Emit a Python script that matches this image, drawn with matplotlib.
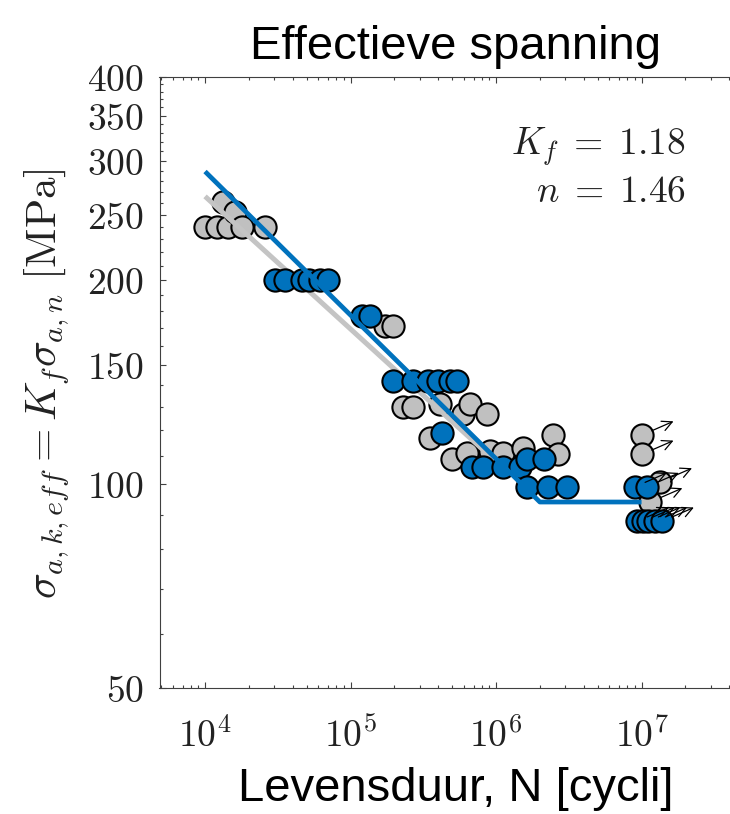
import matplotlib
matplotlib.use("Agg")
import matplotlib.pyplot as plt
from matplotlib.ticker import FixedLocator, FixedFormatter, LogLocator, NullFormatter
from matplotlib.transforms import offset_copy

plt.rcParams['mathtext.fontset'] = 'cm'

# ---------------- data ----------------
# grey (nominal) failures
gray_N = [1.0e4, 1.21e4, 1.44e4, 1.33e4, 1.61e4, 1.80e4, 2.58e4,
          1.73e5, 1.96e5,
          2.30e5, 2.69e5, 4.12e5, 5.93e5, 6.62e5, 8.67e5,
          3.52e5, 4.99e5, 6.3e5, 9.1e5, 1.12e6, 1.54e6, 2.47e6, 2.67e6]
gray_S = [240, 240, 240, 261, 252, 240, 240,
          171, 171,
          130, 130, 131, 127, 131, 127,
          117, 109, 111, 112, 111, 113, 118, 110.5]

# blue (effective) failures
blue_N = [3.03e4, 3.55e4, 4.64e4, 5.19e4, 6.17e4, 7.0e4,
          1.2e5, 1.36e5,
          1.96e5, 2.69e5, 3.41e5, 3.99e5, 4.83e5, 5.4e5,
          4.26e5,
          6.84e5, 8.14e5, 1.12e6, 1.46e6,
          1.63e6, 2.14e6,
          1.63e6, 2.28e6, 3.07e6]
blue_S = [200, 200, 200, 200, 200, 200,
          177, 177,
          142, 142, 142, 142, 142, 142,
          119,
          106, 106, 106, 106,
          109, 109,
          99, 99, 99]

# run-outs (with arrows)
gray_run_N = [1.0e7, 1.0e7, 1.34e7, 1.15e7]
gray_run_S = [118, 110.5, 100.6, 94]
blue_run_N = [9.0e6, 1.09e7, 9.3e6, 1.02e7, 1.11e7, 1.24e7, 1.38e7]
blue_run_S = [99, 99, 88, 88, 88, 88, 88]

# fitted curves
gray_fit_N = [1.0e4, 1.06e6]
gray_fit_S = [266, 106.6]
blue_fit_N = [1.0e4, 2.0e6, 1.0e7]
blue_fit_S = [289.5, 94, 94]

x_ticks = [1e4, 1e5, 1e6, 1e7]
x_ticklabels = [r'$10^{4}$', r'$10^{5}$', r'$10^{6}$', r'$10^{7}$']
y_ticks = [50, 100, 150, 200, 250, 300, 350, 400]
y_ticklabels = [r'$%d$' % v for v in y_ticks]
y_minor = [v for v in range(60, 400, 10) if v not in y_ticks]

Kf_text = r'$K_f\;=\;1.18$'
n_text = r'$n\;=\;1.46$'

# ---------------- figure ----------------
W, H = 730, 814
fig = plt.figure(figsize=(W / 100, H / 100), dpi=100)
ax = fig.add_axes([159.5 / W, 126.5 / H, (752 - 159.5) / W, 611 / H])

GRAY = '#c0c0c0'
BLUE = '#0072bd'
ms, mew = 16, 1.5

ax.plot(gray_N, gray_S, 'o', ms=ms, mfc=GRAY, mec='k', mew=mew, zorder=2, clip_on=False)
ax.plot(gray_run_N, gray_run_S, 'o', ms=ms, mfc=GRAY, mec='k', mew=mew, zorder=2, clip_on=False)
ax.plot(gray_fit_N, gray_fit_S, '-', color='#c4c4c4', lw=3.6, zorder=3, solid_capstyle='butt')
ax.plot(blue_N, blue_S, 'o', ms=ms, mfc=BLUE, mec='k', mew=mew, zorder=4, clip_on=False)
ax.plot(blue_run_N, blue_run_S, 'o', ms=ms, mfc=BLUE, mec='k', mew=mew, zorder=4, clip_on=False)
ax.plot(blue_fit_N, blue_fit_S, '-', color=BLUE, lw=3.4, zorder=5, solid_capstyle='butt')

head_tr = offset_copy(ax.transData, fig=fig, x=23, y=10, units='points')
for N, S in list(zip(gray_run_N, gray_run_S)) + list(zip(blue_run_N, blue_run_S)):
    ax.annotate('', xy=(N, S), xycoords=head_tr, xytext=(N, S), textcoords='data',
                arrowprops=dict(arrowstyle='->', color='k', lw=0.9, shrinkA=8, shrinkB=0,
                                mutation_scale=18), zorder=6)

ax.set_xscale('log')
ax.set_yscale('log')
ax.set_xlim(10 ** 3.687, 10 ** 7.759)
ax.set_ylim(50, 400)

ax.xaxis.set_major_locator(FixedLocator(x_ticks))
ax.xaxis.set_major_formatter(FixedFormatter(x_ticklabels))
ax.xaxis.set_minor_locator(LogLocator(base=10, subs=range(2, 10)))
ax.xaxis.set_minor_formatter(NullFormatter())
ax.yaxis.set_major_locator(FixedLocator(y_ticks))
ax.yaxis.set_major_formatter(FixedFormatter(y_ticklabels))
ax.yaxis.set_minor_locator(FixedLocator(y_minor))
ax.yaxis.set_minor_formatter(NullFormatter())

SPC = '#404040'
for sp in ax.spines.values():
    sp.set_color(SPC)
    sp.set_linewidth(0.8)
ax.spines['right'].set_visible(False)
ax.tick_params(which='both', direction='in', top=True, right=False, color=SPC, width=0.8)
ax.tick_params(which='major', length=4.5)
ax.tick_params(which='minor', length=2.5)
ax.tick_params(axis='x', which='major', labelsize=27, pad=22, labelcolor='#222222')
ax.tick_params(axis='y', which='major', labelsize=27, pad=11, labelcolor='#222222')

ax.text((686 - 159.5) / 592.5, (688 - 155) / 611, Kf_text, transform=ax.transAxes,
        ha='right', va='baseline', fontsize=27, color='#222222')
ax.text((686 - 159.5) / 592.5, (688 - 202) / 611, n_text, transform=ax.transAxes,
        ha='right', va='baseline', fontsize=27, color='#222222')

fig.text(455.5 / W, 1 - 59 / H, 'Effectieve spanning', ha='center', va='baseline',
         fontsize=34, family='Liberation Sans', color='black')
fig.text(456 / W, 1 - 801 / H, 'Levensduur, N [cycli]', ha='center', va='baseline',
         fontsize=34, family='Liberation Sans', color='black')
fig.text(47 / W, 1 - 384 / H, r'$\sigma_{a,k,eff} = K_f\sigma_{a,n}\ [\mathrm{MPa}]$',
         rotation=90, ha='center', va='center', fontsize=31, color='#222222')

fig.savefig('out.png', dpi=100)
